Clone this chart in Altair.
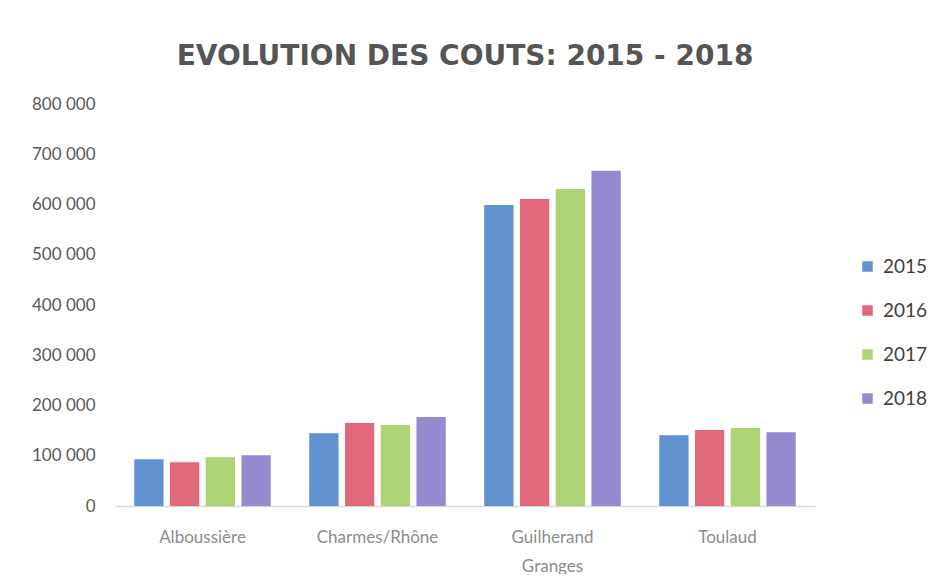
import altair as alt
import pandas as pd

communes = ["Alboussière", "Charmes/Rhône", "Guilherand Granges", "Toulaud"]
years = ["2015", "2016", "2017", "2018"]
v2015 = [93000, 145000, 599000, 141000]
v2016 = [87000, 165000, 611000, 151000]
v2017 = [97000, 161000, 631000, 155000]
v2018 = [101000, 177000, 667000, 147000]
colors = ["#5289cc", "#de5c70", "#a6cf69", "#8b80cc"]

rows = []
for yr, vals in zip(years, [v2015, v2016, v2017, v2018]):
    for c, v in zip(communes, vals):
        rows.append({"commune": c, "annee": yr, "cout": v})
df = pd.DataFrame(rows)

chart = alt.Chart(df).mark_bar(opacity=0.92).encode(
    x=alt.X("commune:N", sort=communes,
            scale=alt.Scale(paddingInner=0.22, paddingOuter=0.11),
            axis=alt.Axis(title=None, labelAngle=0, ticks=False,
                          domainColor="#d9d9d9", domainWidth=1.5,
                          labelColor="#8c8c8c", labelFontSize=17,
                          labelFont="Lato", labelPadding=23,
                          labelLineHeight=29,
                          labelExpr="datum.label == 'Guilherand Granges' ? ['Guilherand', 'Granges'] : datum.label")),
    xOffset=alt.XOffset("annee:N", sort=years,
                        scale=alt.Scale(paddingInner=0.18)),
    y=alt.Y("cout:Q", scale=alt.Scale(domain=[0, 800000]),
            axis=alt.Axis(title=None, values=[0, 100000, 200000, 300000, 400000, 500000, 600000, 700000, 800000],
                          grid=False, domain=False, ticks=False,
                          labelColor="#595959", labelFontSize=17, labelFont="Lato",
                          labelPadding=20,
                          labelExpr="datum.value == 0 ? '0' : format(datum.value / 1000, 'd') + ' 000'")),
    color=alt.Color("annee:N", sort=years,
                    scale=alt.Scale(domain=years, range=colors),
                    legend=alt.Legend(title=None, orient="none", legendX=743, legendY=153,
                                      symbolType="square", symbolSize=110, symbolStrokeWidth=0,
                                      labelFontSize=19, labelFont="Lato", labelColor="#404040",
                                      rowPadding=24, labelOffset=6)),
).properties(
    width=700, height=402,
    autosize=alt.AutoSizeParams(type="none"),
    padding={"left": 107, "top": 96, "right": 117, "bottom": 68},
    title=alt.TitleParams("EVOLUTION DES COUTS: 2015 - 2018", anchor="middle",
                          font="DejaVu Sans", fontSize=28, fontWeight="bold",
                          color="#555555", offset=24),
).configure_view(stroke=None)

chart.save("out.html", embed_options={"renderer": "svg", "actions": False})
